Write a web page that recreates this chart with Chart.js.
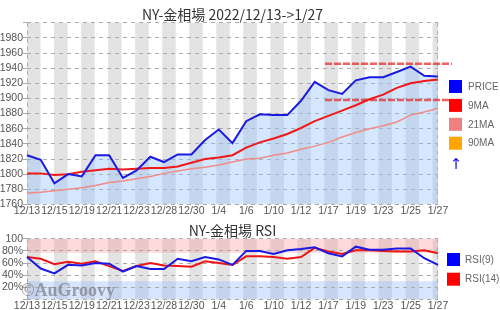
<!DOCTYPE html>
<html>
<head>
<meta charset="utf-8">
<script src="https://cdn.jsdelivr.net/npm/chart.js@4"></script>
<style>
  body { margin: 0; background: #fff; overflow: hidden; }
  canvas { display: block; }
</style>
</head>
<body>
<canvas id="price" width="500" height="217"></canvas>
<canvas id="rsi" width="500" height="95"></canvas>
<script>
// trading days 12/13 -> 1/27
const dates = ['12/13','12/14','12/15','12/16','12/19','12/20','12/21','12/22','12/23','12/27',
  '12/28','12/29','12/30','1/3','1/4','1/5','1/6','1/9','1/10','1/11',
  '1/12','1/13','1/17','1/18','1/19','1/20','1/23','1/24','1/25','1/26','1/27'];

const price = [1825,1819,1788,1800,1797,1825,1825,1795,1805,1823,
  1816,1826,1826,1845,1859,1841,1870,1879,1878,1878,
  1897,1922,1911,1906,1924,1928,1928,1935,1942,1930,1929];
const ma9 = [1801,1801,1799,1800,1803,1805,1807,1806,1807,1808,
  1808,1810,1815,1820,1822,1825,1835,1842,1847,1853,
  1861,1870,1877,1884,1891,1899,1905,1914,1920,1923,1925];
const ma21 = [1775,1776,1778,1780,1782,1785,1789,1791,1794,1797,
  1801,1804,1807,1809,1812,1816,1820,1821,1825,1828,
  1833,1837,1842,1849,1855,1860,1864,1869,1878,1882,1887];
const ma90 = [];   // below the visible range
const resistLevels = [1946, 1898];

const rsi9 = [70,51,43,57,56,60,59,46,55,50,
  50,67,63,70,66,57,80,80,75,81,
  83,86,76,71,87,82,82,84,84,68,57];
const rsi14 = [70,67,58,62,59,63,55,47,55,60,
  56,55,54,63,60,57,71,71,70,67,
  70,85,79,75,81,81,80,79,79,81,76];

const priceLegend = ['PRICE', '9MA', '21MA', '90MA'];
const priceColors = ['#0000ff', '#ff0000', '#f08080', '#ffa500'];
const rsiLegend = ['RSI(9)', 'RSI(14)'];
const rsiColors = ['#0000ff', '#ff0000'];

const sans = '"Liberation Sans", Arial, sans-serif';
const cjk = '"Noto Sans CJK JP", "Noto Sans", sans-serif';

// grey stripes, coloured zones and dashed side borders
const backdrop = {
  id: 'backdrop',
  beforeDraw(chart, args, opts) {
    const { ctx, chartArea: a } = chart;
    const step = a.width / 15.2;
    ctx.save();
    ctx.fillStyle = '#e3e3e3';
    for (let x = a.left; x < a.right; x += step) {
      ctx.fillRect(x, a.top, Math.min(step / 2, a.right - x), a.height);
    }
    (opts.zones || []).forEach(z => {
      const y0 = chart.scales.y.getPixelForValue(z.from);
      const y1 = chart.scales.y.getPixelForValue(z.to);
      ctx.fillStyle = z.color;
      ctx.fillRect(a.left, y1, a.width, y0 - y1);
    });
    ctx.strokeStyle = '#aaa';
    ctx.lineWidth = 1;
    ctx.setLineDash([4, 4]);
    ctx.beginPath();
    ctx.moveTo(a.left + 0.5, a.top);
    ctx.lineTo(a.left + 0.5, a.bottom);
    ctx.moveTo(a.right - 0.5, a.top);
    ctx.lineTo(a.right - 0.5, a.bottom);
    ctx.stroke();
    ctx.restore();
  }
};

const resist = {
  id: 'resist',
  afterDatasetsDraw(chart) {
    const { ctx, chartArea: a, scales } = chart;
    const x0 = scales.x.getPixelForValue(21.75);
    ctx.save();
    ctx.strokeStyle = 'rgba(235,30,30,0.7)';
    ctx.lineWidth = 2.5;
    ctx.setLineDash([7, 2]);
    resistLevels.forEach(v => {
      const y = scales.y.getPixelForValue(v);
      ctx.beginPath();
      ctx.moveTo(x0, y);
      ctx.lineTo(a.right + 14, y);
      ctx.stroke();
    });
    ctx.restore();
  }
};

const sideLegend = {
  id: 'sideLegend',
  afterDraw(chart, args, opts) {
    const ctx = chart.ctx;
    ctx.save();
    ctx.font = '10px ' + sans;
    ctx.textBaseline = 'middle';
    opts.labels.forEach((t, i) => {
      const y = opts.top + i * opts.step;
      ctx.fillStyle = opts.colors[i];
      ctx.fillRect(opts.x, y, 13, 13);
      ctx.fillStyle = '#666';
      ctx.fillText(t, opts.x + opts.gap, y + 7);
    });
    if (opts.mark) {
      ctx.fillStyle = '#1010dd';
      ctx.font = '15px "DejaVu Sans", sans-serif';
      ctx.textAlign = 'center';
      ctx.fillText(opts.mark, opts.x + 7, opts.top + opts.labels.length * opts.step + 10);
    }
    if (opts.watermark) {
      ctx.font = 'bold 18px "Liberation Serif", "DejaVu Serif", serif';
      ctx.textBaseline = 'alphabetic';
      ctx.textAlign = 'left';
      ctx.fillStyle = 'rgba(110,110,110,0.6)';
      ctx.fillText(opts.watermark, 21, chart.chartArea.bottom - 3);
    }
    ctx.restore();
  }
};

function xAxis() {
  return {
    grid: { display: false, drawTicks: false },
    border: { display: false },
    ticks: {
      autoSkip: false, maxRotation: 0, padding: 0, color: '#555',
      font: { family: sans, size: 10.5, lineHeight: 1.2 },
      callback: (v, i) => i % 2 === 0 ? dates[i] : ''
    }
  };
}

function yTicks(cb) {
  return {
    stepSize: 20, padding: 0, color: '#555', autoSkip: false,
    font: { family: sans, size: 10.5 },
    callback: cb
  };
}

function line(label, data, color, width) {
  return { label, data, borderColor: color, borderWidth: width, pointRadius: 0, tension: 0 };
}

new Chart(document.getElementById('price'), {
  type: 'line',
  data: {
    labels: dates,
    datasets: [
      Object.assign(line('PRICE', price, '#1a1ae0', 2), { fill: 'start', backgroundColor: 'rgba(150,195,255,0.4)' }),
      line('9MA', ma9, '#f01818', 2),
      line('21MA', ma21, '#f08c84', 1.5),
      line('90MA', ma90, '#ffa500', 1.5)
    ]
  },
  options: {
    responsive: false,
    animation: false,
    layout: { padding: { right: 62 } },
    plugins: {
      legend: { display: false },
      tooltip: { enabled: false },
      filler: { drawTime: 'beforeDatasetsDraw' },
      title: {
        display: true, text: 'NY-金相場 2022/12/13->1/27', fullSize: false, color: '#333',
        font: { family: cjk, size: 14, weight: 'normal', lineHeight: 1.2 },
        padding: { top: 6, bottom: 0 }
      },
      sideLegend: { labels: priceLegend, colors: priceColors, x: 449, gap: 19, top: 80, step: 18.9, mark: '↑' }
    },
    scales: {
      x: xAxis(),
      y: {
        min: 1760, max: 2000,
        afterFit: s => { s.width = 27; },
        grid: { color: '#aaa', tickLength: 4 },
        border: { display: false, dash: [4, 4] },
        ticks: yTicks(v => v === 2000 ? '' : v)
      }
    }
  },
  plugins: [backdrop, resist, sideLegend]
});

new Chart(document.getElementById('rsi'), {
  type: 'line',
  data: {
    labels: dates,
    datasets: [
      line('RSI(9)', rsi9, '#1a1ae6', 2),
      line('RSI(14)', rsi14, '#ee1515', 2)
    ]
  },
  options: {
    responsive: false,
    animation: false,
    layout: { padding: { right: 62 } },
    plugins: {
      legend: { display: false },
      tooltip: { enabled: false },
      title: {
        display: true, text: 'NY-金相場 RSI', fullSize: false, color: '#333',
        font: { family: cjk, size: 14, weight: 'normal', lineHeight: 1.2 },
        padding: { top: 5, bottom: 0 }
      },
      backdrop: {
        zones: [
          { from: 77, to: 100, color: 'rgba(255,140,140,0.32)' },
          { from: 0, to: 30, color: 'rgba(140,180,255,0.35)' }
        ]
      },
      sideLegend: { labels: rsiLegend, colors: rsiColors, x: 447, gap: 18, top: 36, step: 19.7, watermark: '©AuGroovy' }
    },
    scales: {
      x: xAxis(),
      y: {
        min: 0, max: 100,
        afterFit: s => { s.width = 27; },
        grid: { color: '#aaa', tickLength: 4 },
        border: { display: false, dash: [4, 4] },
        ticks: yTicks(v => v === 0 ? '' : (v === 100 ? '100' : v + '%'))
      }
    }
  },
  plugins: [backdrop, sideLegend]
});
</script>
</body>
</html>
